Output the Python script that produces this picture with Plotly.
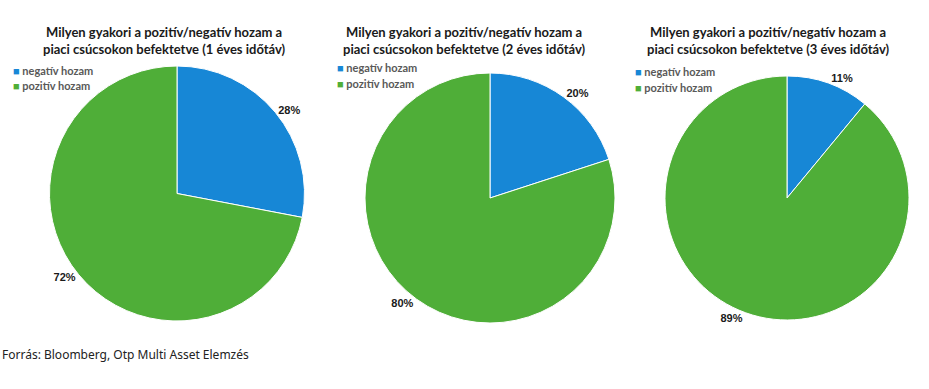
import plotly.graph_objects as go

W, H = 929, 389

# ---- data ----
titles = [
    "Milyen gyakori a pozitív/negatív hozam a<br>piaci csúcsokon befektetve (1 éves időtáv)",
    "Milyen gyakori a pozitív/negatív hozam a<br>piaci csúcsokon befektetve (2 éves időtáv)",
    "Milyen gyakori a pozitív/negatív hozam a<br>piaci csúcsokon befektetve (3 éves időtáv)",
]
labels = ["negatív hozam", "pozitív hozam"]
negativ = [28, 20, 11]
pozitiv = [72, 80, 89]
source_text = "Forrás: Bloomberg, Otp Multi Asset Elemzés"

# ---- style ----
colors = ["#1787d6", "#4fae38"]
# pie boxes in pixels: (left, right, top, bottom)
boxes = [(49, 305, 66, 321), (365, 615, 73, 323), (665, 909, 76, 320)]
title_pos = [(164, 40), (464, 40), (768, 40)]
legend_pos = [(11, 70), (335, 67), (633, 71)]

def px(x):
    return x / W

def py(y):
    return 1 - y / H

fig = go.Figure()
for i in range(3):
    l, r, t, b = boxes[i]
    fig.add_trace(go.Pie(
        labels=labels,
        values=[negativ[i], pozitiv[i]],
        sort=False,
        direction="clockwise",
        rotation=0,
        marker=dict(colors=colors, line=dict(color="white", width=1)),
        textinfo="percent",
        textposition="outside",
        textfont=dict(family="Liberation Sans, Arial", size=11, color="#1a1a1a", weight="bold"),
        domain=dict(x=[px(l), px(r)], y=[py(b), py(t)]),
        showlegend=False,
        automargin=False,
        hoverinfo="label+percent",
    ))

annotations = []
for i in range(3):
    tx, ty = title_pos[i]
    annotations.append(dict(
        text=titles[i], x=px(tx), y=py(ty), xref="paper", yref="paper",
        xanchor="center", yanchor="middle", showarrow=False,
        font=dict(family="Lato, Arial", size=13, color="#1a1a1a", weight="bold"),
    ))
    lx, ly = legend_pos[i]
    for j, lab in enumerate(labels):
        annotations.append(dict(
            text=f'<span style="color:{colors[j]}">■</span> {lab}',
            x=px(lx), y=py(ly + 16 * j), xref="paper", yref="paper",
            xanchor="left", yanchor="middle", showarrow=False,
            font=dict(family="Lato, Arial", size=11, color="#595959", weight="bold"),
        ))
annotations.append(dict(
    text=source_text, x=0, y=py(354), xref="paper", yref="paper",
    xanchor="left", yanchor="middle", showarrow=False,
    font=dict(family="Noto Sans, Roboto, Arial", size=12, color="#222222"),
))

fig.update_layout(
    width=W, height=H,
    margin=dict(l=0, r=0, t=0, b=0),
    paper_bgcolor="white",
    plot_bgcolor="white",
    annotations=annotations,
)

fig.write_html(
    "out.html",
    config={"displayModeBar": False},
    post_script="document.body.style.margin='0';document.body.style.padding='0';",
)
